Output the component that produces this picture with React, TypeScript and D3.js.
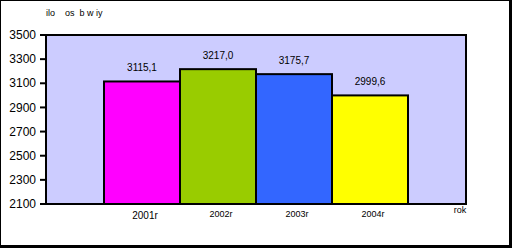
import React from "react";
import * as d3 from "d3";

const categories = ["2001r", "2002r", "2003r", "2004r"];
const values = [3115.1, 3217.0, 3175.7, 2999.6];
const valueLabels = ["3115,1", "3217,0", "3175,7", "2999,6"];
const colors = ["#ff00ff", "#99cc00", "#3366ff", "#ffff00"];
const yTicks = [2100, 2300, 2500, 2700, 2900, 3100, 3300, 3500];
const title = "ilo\u00a0\u00a0\u00a0\u00a0os\u00a0\u00a0b w iy";
const xTitle = "rok";

export default function App() {
  const W = 512, H = 248;
  const plot = { left: 46, right: 466, top: 35, bottom: 204 };
  const y = d3.scaleLinear().domain([2100, 3500]).range([plot.bottom, plot.top]);
  const x = d3.scaleBand<string>().domain(categories).range([104, 408]).padding(0);
  const font = "Liberation Sans, Arial, sans-serif";
  return (
    <div style={{ position: "fixed", left: 0, top: 0 }}>
      <svg width={W} height={H} style={{ display: "block" }}>
        <rect x={0} y={0} width={W} height={H} fill="#fff" />
        {/* outer frame */}
        <line x1={0.5} y1={0} x2={0.5} y2={H} stroke="#000" strokeWidth={1} />
        <line x1={0} y1={0.5} x2={W} y2={0.5} stroke="#000" strokeWidth={1} />
        <line x1={W - 1.5} y1={0} x2={W - 1.5} y2={H} stroke="#000" strokeWidth={3} />
        <line x1={0} y1={H - 1.5} x2={W} y2={H - 1.5} stroke="#000" strokeWidth={3} />
        {/* plot area */}
        <rect x={plot.left} y={plot.top} width={plot.right - plot.left} height={plot.bottom - plot.top}
          fill="#ccccff" stroke="#000" strokeWidth={2} />
        {/* bars */}
        {categories.map((c, i) => (
          <rect key={c} x={x(c)!} y={y(values[i])} width={x.bandwidth()} height={plot.bottom - y(values[i])}
            fill={colors[i]} stroke="#000" strokeWidth={2} />
        ))}
        {/* value labels */}
        {categories.map((c, i) => (
          <text key={c} x={x(c)! + x.bandwidth() / 2} y={y(values[i]) - 10} textAnchor="middle"
            fontFamily={font} fontSize={10} fill="#000">{valueLabels[i]}</text>
        ))}
        {/* y ticks */}
        {yTicks.map((t) => (
          <g key={t}>
            <line x1={40} x2={plot.left} y1={y(t)} y2={y(t)} stroke="#000" strokeWidth={2} />
            <text x={36} y={y(t)} dy="0.35em" textAnchor="end" fontFamily={font} fontSize={12} fill="#000">{t}</text>
          </g>
        ))}
        {/* x labels */}
        {categories.map((c, i) => (
          <text key={c} x={x(c)! + x.bandwidth() / 2 + 3} y={i === 0 ? 219 : 217} textAnchor="middle"
            fontFamily={font} fontSize={i === 0 ? 10 : 9} fill="#000">{c}</text>
        ))}
        <text x={460} y={213} textAnchor="middle" fontFamily={font} fontSize={9} fill="#000">{xTitle}</text>
        <text x={46} y={16} fontFamily={font} fontSize={9} fill="#000">{title}</text>
      </svg>
    </div>
  );
}
